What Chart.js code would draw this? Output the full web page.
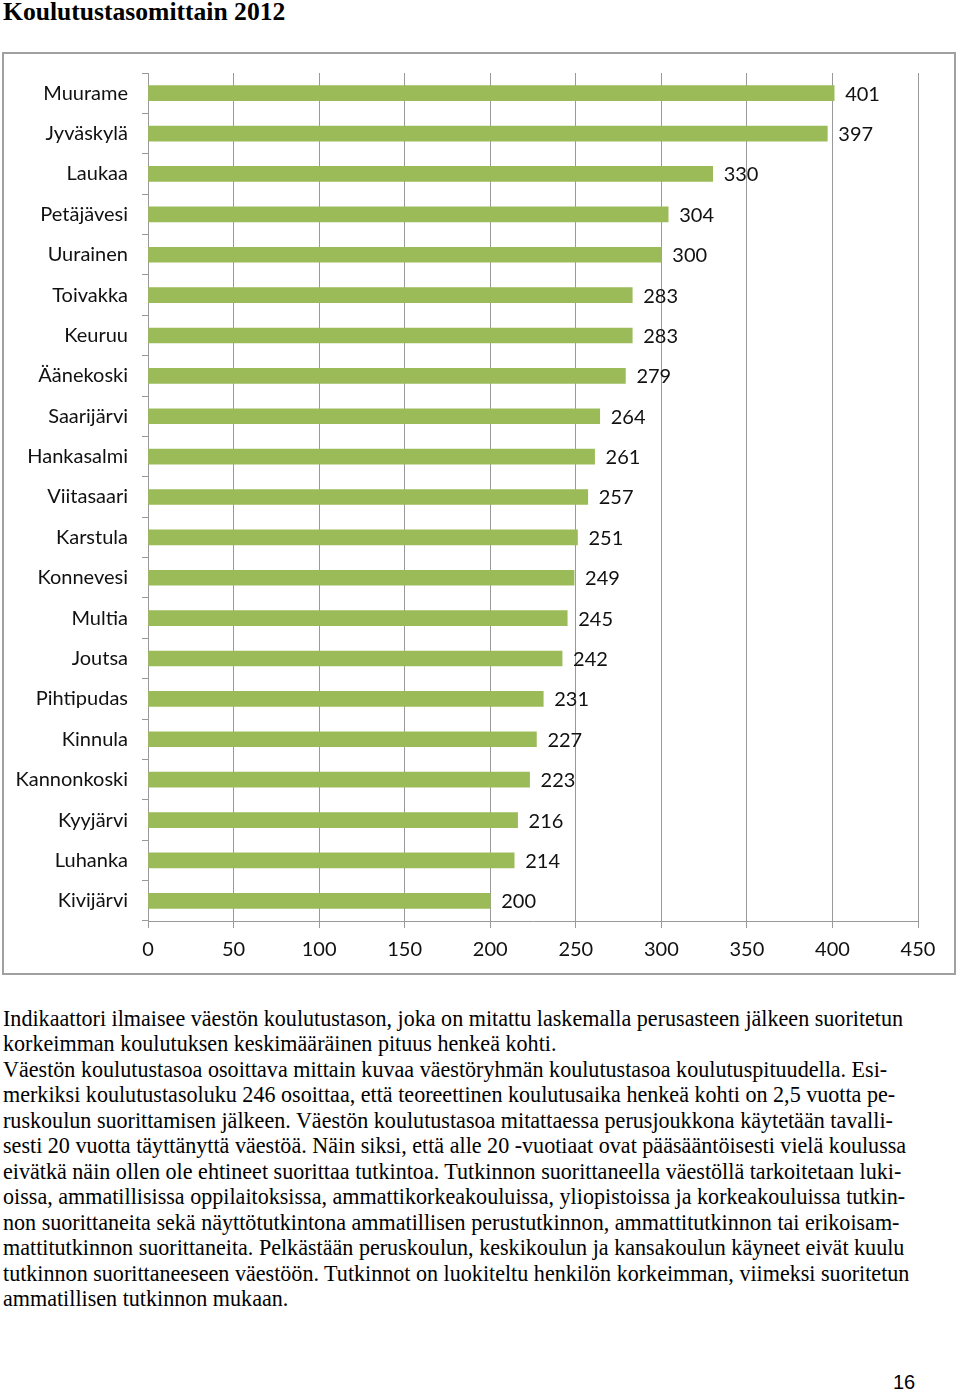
<!DOCTYPE html>
<html>
<head>
<meta charset="utf-8">
<script src="https://cdn.jsdelivr.net/npm/chart.js@4.4.0/dist/chart.umd.min.js"></script>
<style>
  body { margin: 0; background: #fff; width: 960px; height: 1392px; position: relative; overflow: hidden; }
  #title { position: absolute; left: 3px; top: -3px; font: bold 25.6px "Liberation Serif", "DejaVu Serif", serif; color: #000; }
  #box { position: absolute; left: 2px; top: 52px; width: 954px; height: 923px; border: 2px solid #a0a0a0; box-sizing: border-box; }
  #box canvas { position: absolute; left: 0; top: -7px; }
  #text { position: absolute; left: 3px; top: 1006px; font: 22.1px "Liberation Serif", serif; line-height: 25.45px; color: #000; white-space: nowrap; }
  #page { position: absolute; left: 893px; top: 1371px; font: 20px "Liberation Sans", Arial, sans-serif; color: #000; }
</style>
</head>
<body>
<div id="title">Koulutustasomittain 2012</div>
<div id="box"><canvas id="chart" width="950" height="926"></canvas></div>
<div id="text">
<div>Indikaattori ilmaisee väestön koulutustason, joka on mitattu laskemalla perusasteen jälkeen suoritetun</div>
<div>korkeimman koulutuksen keskimääräinen pituus henkeä kohti.</div>
<div>Väestön koulutustasoa osoittava mittain kuvaa väestöryhmän koulutustasoa koulutuspituudella. Esi-</div>
<div>merkiksi koulutustasoluku 246 osoittaa, että teoreettinen koulutusaika henkeä kohti on 2,5 vuotta pe-</div>
<div>ruskoulun suorittamisen jälkeen. Väestön koulutustasoa mitattaessa perusjoukkona käytetään tavalli-</div>
<div>sesti 20 vuotta täyttänyttä väestöä. Näin siksi, että alle 20 -vuotiaat ovat pääsääntöisesti vielä koulussa</div>
<div>eivätkä näin ollen ole ehtineet suorittaa tutkintoa. Tutkinnon suorittaneella väestöllä tarkoitetaan luki-</div>
<div>oissa, ammatillisissa oppilaitoksissa, ammattikorkeakouluissa, yliopistoissa ja korkeakouluissa tutkin-</div>
<div>non suorittaneita sekä näyttötutkintona ammatillisen perustutkinnon, ammattitutkinnon tai erikoisam-</div>
<div>mattitutkinnon suorittaneita. Pelkästään peruskoulun, keskikoulun ja kansakoulun käyneet eivät kuulu</div>
<div>tutkinnon suorittaneeseen väestöön. Tutkinnot on luokiteltu henkilön korkeimman, viimeksi suoritetun</div>
<div>ammatillisen tutkinnon mukaan.</div>
</div>
<div id="page">16</div>
<script>
const municipalities = ["Muurame", "Jyväskylä", "Laukaa", "Petäjävesi", "Uurainen", "Toivakka", "Keuruu",
  "Äänekoski", "Saarijärvi", "Hankasalmi", "Viitasaari", "Karstula", "Konnevesi", "Multia", "Joutsa",
  "Pihtipudas", "Kinnula", "Kannonkoski", "Kyyjärvi", "Luhanka", "Kivijärvi"];
const levels = [401, 397, 330, 304, 300, 283, 283, 279, 264, 261, 257, 251, 249, 245, 242, 231, 227, 223, 216, 214, 200];
const xTicks = [0, 50, 100, 150, 200, 250, 300, 350, 400, 450];

const labelFont = '20px Lato, "Open Sans", sans-serif';
const gridGray = "#999";

// value labels to the right of each bar
const barLabels = {
  id: "barLabels",
  afterDatasetsDraw(chart) {
    const ctx = chart.ctx;
    const meta = chart.getDatasetMeta(0);
    ctx.save();
    ctx.font = labelFont;
    ctx.fillStyle = "#111";
    ctx.textAlign = "left";
    ctx.textBaseline = "middle";
    meta.data.forEach((bar, i) => {
      ctx.fillText(levels[i], bar.x + 11, bar.y + 1);
    });
    ctx.restore();
  }
};

new Chart(document.getElementById("chart").getContext("2d"), {
  type: "bar",
  data: {
    labels: municipalities,
    datasets: [{
      data: levels,
      backgroundColor: "#9bbb59",
      barThickness: 15
    }]
  },
  options: {
    indexAxis: "y",
    responsive: false,
    animation: false,
    devicePixelRatio: 1,
    layout: { padding: { top: 0, right: 36, bottom: 2, left: 0 } },
    plugins: { legend: { display: false }, tooltip: { enabled: false } },
    scales: {
      x: {
        min: 0,
        max: 450,
        afterBuildTicks: (axis) => { axis.ticks = xTicks.map(v => ({ value: v })); },
        afterFit: (axis) => { axis.height = 50; },
        grid: { color: gridGray, lineWidth: 1, tickLength: 7 },
        border: { color: gridGray, width: 1 },
        ticks: { color: "#111", font: { family: "Lato", size: 20 }, padding: 10, maxRotation: 0 }
      },
      y: {
        afterFit: (axis) => { axis.width = 144; },
        grid: { offset: true, drawOnChartArea: false, color: gridGray, tickLength: 6 },
        border: { color: gridGray, width: 1 },
        ticks: { color: "#111", font: { family: "Lato", size: 20 }, padding: 14, autoSkip: false }
      }
    }
  },
  plugins: [barLabels]
});
</script>
</body>
</html>
